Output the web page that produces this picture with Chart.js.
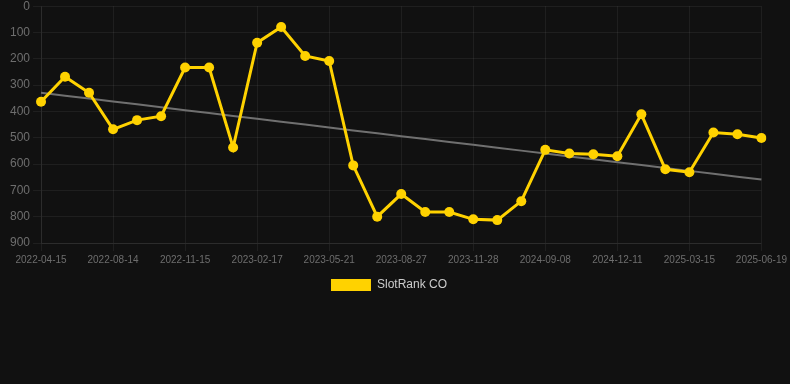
<!DOCTYPE html>
<html>
<head>
<meta charset="utf-8">
<script src="https://cdn.jsdelivr.net/npm/chart.js@4"></script>
<style>
    html, body { margin: 0; padding: 0; background: #111111; overflow: hidden; }
    #wrap { width: 790px; height: 305px; margin-top: -4px; }
</style>
</head>
<body>
<div id="wrap"><canvas id="rankChart"></canvas></div>
<script>
const dates = [
    '2022-04-15', '2022-05-25', '2022-07-04', '2022-08-14', '2022-09-18', '2022-10-16',
    '2022-11-15', '2022-12-20', '2023-01-19', '2023-02-17', '2023-03-20', '2023-04-22',
    '2023-05-21', '2023-06-25', '2023-07-26', '2023-08-27', '2023-09-30', '2023-10-29',
    '2023-11-28', '2024-03-12', '2024-06-20', '2024-09-08', '2024-10-10', '2024-11-09',
    '2024-12-11', '2025-01-13', '2025-02-12', '2025-03-15', '2025-04-17', '2025-05-18',
    '2025-06-19'
];
const ranks = [
    363, 268, 329, 468, 433, 418, 233, 233, 537, 139, 79, 189, 208, 605, 800, 714,
    782, 782, 810, 813, 741, 546, 560, 563, 570, 411, 620, 631, 480, 487, 501
];
const yTicks = [0, 100, 200, 300, 400, 500, 600, 700, 800, 900];

// least squares trend over the point index
function trendOf(values) {
    const n = values.length;
    let sx = 0, sy = 0, sxy = 0, sxx = 0;
    values.forEach((v, i) => { sx += i; sy += v; sxy += i * v; sxx += i * i; });
    const slope = (n * sxy - sx * sy) / (n * sxx - sx * sx);
    const base = (sy - slope * sx) / n;
    return values.map((v, i) => base + slope * i);
}

const gridColor = 'rgba(255,255,255,0.06)';
const tickColor = '#6e6e6e';
const fontFamily = 'Liberation Sans, Arial, sans-serif';

// nudge the centred legend a little to the left, like the original
const legendShift = {
    id: 'legendShift',
    afterLayout(chart) {
        if (chart.legend) chart.legend.right -= 19;
    }
};

new Chart(document.getElementById('rankChart'), {
    type: 'line',
    data: {
        labels: dates,
        datasets: [{
            label: 'SlotRank CO',
            data: ranks,
            borderColor: '#FFD200',
            backgroundColor: '#FFD200',
            borderWidth: 3,
            pointRadius: 5,
            pointBackgroundColor: '#FFD200',
            pointBorderWidth: 0,
            tension: 0,
            order: 1
        }, {
            label: 'Trend',
            data: trendOf(ranks),
            borderColor: '#707070',
            borderWidth: 2,
            pointRadius: 0,
            tension: 0,
            order: 2
        }]
    },
    plugins: [legendShift],
    options: {
        responsive: true,
        maintainAspectRatio: false,
        animation: false,
        layout: { padding: { top: 0, bottom: 0, left: 7, right: 0 } },
        scales: {
            x: {
                grid: { color: gridColor, tickColor: gridColor },
                border: { color: gridColor },
                ticks: {
                    color: tickColor,
                    font: { family: fontFamily, size: 10 },
                    autoSkip: false,
                    maxRotation: 0,
                    callback: function (value, index) {
                        return index % 3 === 0 ? this.getLabelForValue(value) : null;
                    }
                }
            },
            y: {
                reverse: true,
                min: 0,
                max: 900,
                afterBuildTicks: axis => { axis.ticks = yTicks.map(v => ({ value: v })); },
                grid: { color: gridColor, tickColor: gridColor },
                border: { color: gridColor },
                ticks: {
                    color: tickColor,
                    font: { family: fontFamily, size: 12 }
                }
            }
        },
        plugins: {
            legend: {
                position: 'bottom',
                labels: {
                    color: '#cccccc',
                    boxWidth: 40,
                    boxHeight: 12,
                    font: { family: fontFamily, size: 12 },
                    filter: item => item.text !== 'Trend',
                    generateLabels: chart => Chart.defaults.plugins.legend.labels
                        .generateLabels(chart)
                        .map(item => Object.assign(item, { lineWidth: 0 }))
                }
            },
            tooltip: { enabled: false }
        }
    }
});
</script>
</body>
</html>
